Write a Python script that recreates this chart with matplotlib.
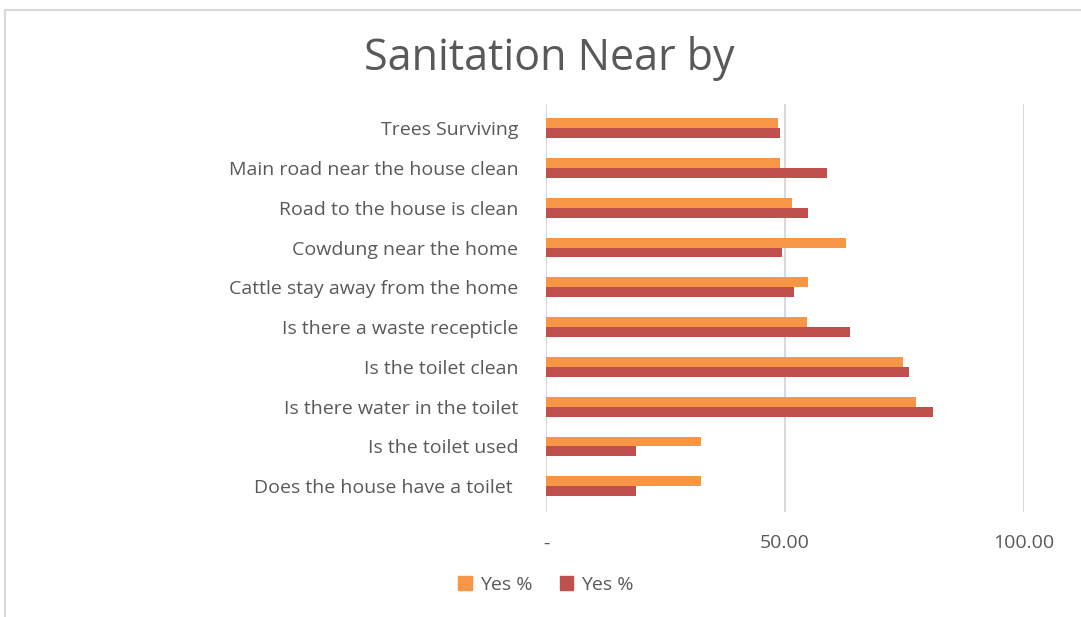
import matplotlib.pyplot as plt
import numpy as np
from matplotlib.patches import Rectangle, Patch

# data (top to bottom as shown)
categories = ['Trees Surviving', 'Main road near the house clean', 'Road to the house is clean',
              'Cowdung near the home', 'Cattle stay away from the home', 'Is there a waste recepticle',
              'Is the toilet clean', 'Is there water in the toilet', 'Is the toilet used',
              'Does the house have a toilet ']
yes_orange = [48.6, 48.9, 51.6, 62.8, 54.9, 54.7, 74.7, 77.4, 32.5, 32.5]
yes_red = [48.9, 58.8, 54.9, 49.5, 51.9, 63.7, 75.9, 81.1, 18.9, 18.9]
xticks = [0, 50, 100]
xtick_labels = ['-', '50.00', '100.00']

orange = '#F79646'
red = '#C0504D'
txt = '#595959'

plt.rcParams['font.family'] = ['Open Sans', 'DejaVu Sans']

fig = plt.figure(figsize=(10.81, 6.17), dpi=100)
ax = fig.add_axes([0.505, 0.170, 0.442, 0.661])

y = np.arange(len(categories))
h = 0.25
ax.barh(y - h / 2, yes_orange, height=h, color=orange, label='Yes %', zorder=3)
ax.barh(y + h / 2, yes_red, height=h, color=red, label='Yes %', zorder=3)

ax.set_ylim(len(categories) - 0.35, -0.6)
ax.set_xlim(0, 100)
ax.set_yticks(y)
ax.set_yticklabels(categories, fontsize=14, color=txt)
ax.set_xticks(xticks)
ax.set_xticklabels(xtick_labels, fontsize=14, color=txt)
ax.tick_params(length=0)
ax.tick_params(axis='y', pad=20)
ax.tick_params(axis='x', pad=16)
for s in ax.spines.values():
    s.set_visible(False)
ax.grid(axis='x', color='#D9D9D9', linewidth=1.5, zorder=0)

fig.text(0.508, 0.905, 'Sanitation Near by', ha='center', va='center', fontsize=31, color=txt)

handles = [Patch(color=orange, label='Yes %'), Patch(color=red, label='Yes %')]
fig.legend(handles=handles, loc='center', bbox_to_anchor=(0.505, 0.052), ncol=2, frameon=False,
           fontsize=14, labelcolor=txt, handlelength=0.7, handleheight=0.7, columnspacing=1.4,
           handletextpad=0.4)

# chart frame (left and top edges visible)
fig.patches.append(Rectangle((0.005, -0.05), 1.1, 1.034, transform=fig.transFigure,
                             fill=False, edgecolor='#D9D9D9', linewidth=1.5))

fig.savefig('out.png', dpi=100)
